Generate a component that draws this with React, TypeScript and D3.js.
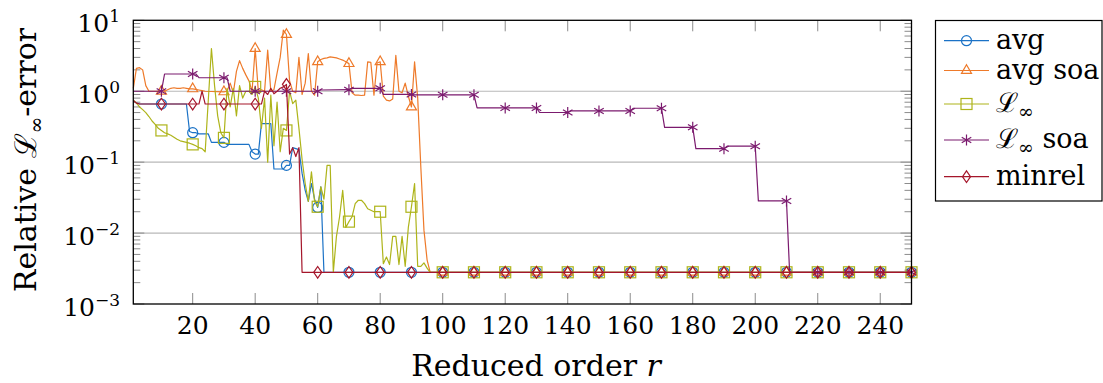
import * as d3 from 'd3';

// reduced order r on x, relative L-infinity error on y (log)
const FLOOR = 0.0028;

const avg: [number, number][] = [
  [1, 0.74], [2, 0.68], [3, 0.66], [10, 0.66], [18, 0.66], [19, 0.27], [20, 0.26], [21, 0.26],
  [22, 0.25], [25, 0.25], [26, 0.19], [30, 0.19], [31, 0.178], [38, 0.178], [39, 0.14], [40, 0.13],
  [41, 0.13], [42, 0.35], [45, 0.35], [46, 0.08], [49, 0.08], [50, 0.09], [51, 0.09], [52, 0.16],
  [54, 0.15], [55, 0.07], [56, 0.04], [57, 0.028], [58, 0.05], [59, 0.03], [60, 0.023], [61, 0.045],
  [62, FLOOR], [70, FLOOR], [80, FLOOR], [90, FLOOR], [100, FLOOR], [110, FLOOR], [120, FLOOR],
  [130, FLOOR], [140, FLOOR], [150, FLOOR], [160, FLOOR], [170, FLOOR], [180, FLOOR], [190, FLOOR],
  [200, FLOOR], [210, FLOOR], [220, FLOOR], [230, FLOOR], [240, FLOOR], [250, FLOOR],
];

const avgSoa: [number, number][] = [
  [1, 1.1], [2, 2.1], [3, 2.15], [4, 2.0], [5, 1.2], [6, 1.0], [10, 1.0], [11, 1.0], [12, 1.05],
  [13, 1.1], [14, 1.12], [15, 1.1], [16, 1.1], [17, 1.12], [18, 1.1], [19, 1.08], [20, 1.08],
  [21, 1.06], [22, 1.04], [23, 1.02], [24, 1.0], [30, 0.98], [31, 1.0], [32, 1.3], [33, 0.95],
  [34, 1.9], [35, 2.7], [36, 2.1], [37, 1.7], [38, 1.4], [39, 1.0], [40, 4.0], [41, 1.0], [42, 1.05],
  [43, 1.0], [44, 3.8], [45, 1.0], [46, 1.05], [47, 1.8], [48, 3.0], [49, 7.3], [50, 6.3], [51, 1.4],
  [52, 1.0], [53, 0.95], [54, 3.0], [55, 0.9], [56, 1.3], [57, 3.4], [58, 1.0], [59, 0.88], [60, 2.6],
  [61, 2.8], [62, 2.9], [63, 2.95], [64, 3.05], [65, 3.0], [66, 2.95], [67, 2.85], [68, 2.75],
  [69, 2.6], [70, 2.45], [71, 0.95], [72, 0.88], [73, 0.88], [74, 0.87], [75, 0.88], [76, 2.6],
  [77, 2.55], [78, 0.88], [79, 2.5], [80, 2.6], [81, 0.85], [82, 0.75], [83, 0.73], [84, 0.78],
  [85, 3.2], [86, 1.0], [87, 0.95], [88, 1.3], [89, 0.85], [90, 0.6], [91, 2.6], [92, 0.8],
  [93, 0.085], [94, 0.011], [95, 0.0042], [96, FLOOR], [100, FLOOR], [110, FLOOR], [120, FLOOR],
  [130, FLOOR], [140, FLOOR], [150, FLOOR], [160, FLOOR], [170, FLOOR], [180, FLOOR], [190, FLOOR],
  [200, FLOOR], [210, FLOOR], [220, FLOOR], [230, FLOOR], [240, FLOOR], [250, FLOOR],
];

const linf: [number, number][] = [
  [1, 0.75], [2, 0.68], [3, 0.6], [4, 0.55], [5, 0.5], [6, 0.44], [7, 0.38], [8, 0.34], [9, 0.3],
  [10, 0.28], [11, 0.26], [12, 0.25], [13, 0.24], [14, 0.225], [15, 0.21], [16, 0.2], [17, 0.195],
  [18, 0.19], [19, 0.185], [20, 0.178], [21, 0.17], [22, 0.16], [23, 0.155], [24, 0.14], [25, 0.75],
  [26, 4.0], [27, 1.2], [28, 0.45], [29, 0.26], [30, 0.22], [31, 1.1], [32, 0.6], [33, 1.1],
  [34, 0.45], [35, 1.2], [36, 0.8], [37, 1.0], [38, 1.0], [39, 0.9], [40, 1.15], [41, 0.8], [42, 0.3],
  [43, 0.8], [44, 0.1], [45, 0.88], [46, 0.17], [47, 0.7], [48, 0.14], [49, 0.3], [50, 0.28],
  [51, 1.0], [52, 0.67], [53, 0.75], [54, 0.3], [55, 0.11], [56, 0.05], [57, 0.028], [58, 0.073],
  [59, 0.028], [60, 0.0235], [61, 0.045], [62, 0.03], [63, 0.09], [64, 0.09], [65, FLOOR],
  [66, 0.009], [67, 0.017], [68, 0.04], [69, 0.012], [70, 0.0145], [71, 0.017], [72, 0.026],
  [73, 0.029], [74, 0.029], [75, 0.026], [76, 0.022], [77, 0.021], [78, 0.02], [79, 0.02], [80, 0.02],
  [81, 0.0037], [82, 0.0046], [83, 0.0036], [84, 0.009], [85, 0.009], [86, 0.0036], [87, 0.009],
  [88, 0.0034], [89, 0.012], [90, 0.0235], [91, 0.05], [92, 0.0034], [93, 0.0034], [94, 0.0038],
  [95, 0.0032], [96, FLOOR], [100, FLOOR], [110, FLOOR], [120, FLOOR], [130, FLOOR], [140, FLOOR],
  [150, FLOOR], [160, FLOOR], [170, FLOOR], [180, FLOOR], [190, FLOOR], [200, FLOOR], [210, FLOOR],
  [220, FLOOR], [230, FLOOR], [240, FLOOR], [250, FLOOR],
];

const linfSoa: [number, number][] = [
  [1, 1.0], [10, 1.0], [11, 1.75], [20, 1.75], [21, 1.75], [22, 1.55], [30, 1.55], [31, 1.55],
  [32, 1.0], [40, 1.0], [50, 1.0], [60, 1.0], [61, 1.04], [70, 1.05], [71, 1.1], [80, 1.1],
  [81, 0.9], [90, 0.9], [91, 0.89], [100, 0.89], [110, 0.89], [111, 0.582], [120, 0.582],
  [130, 0.582], [131, 0.501], [140, 0.501], [141, 0.528], [150, 0.528], [160, 0.528], [161, 0.575],
  [170, 0.575], [171, 0.31], [180, 0.31], [181, 0.155], [190, 0.155], [191, 0.168], [200, 0.168],
  [201, 0.0284], [210, 0.0284], [211, FLOOR], [220, FLOOR], [230, FLOOR], [240, FLOOR], [250, FLOOR],
];

const minrel: [number, number][] = [
  [1, 0.74], [2, 0.68], [3, 0.66], [10, 0.66], [20, 0.66], [22, 0.66], [23, 1.0], [24, 0.66],
  [30, 0.66], [40, 0.66], [42, 0.66], [43, 1.0], [44, 0.9], [45, 1.1], [46, 0.92], [47, 1.0],
  [48, 1.1], [49, 1.15], [50, 1.25], [51, 0.13], [52, 0.16], [53, 0.12], [54, 0.16], [55, FLOOR],
  [60, FLOOR], [70, FLOOR], [80, FLOOR], [90, FLOOR], [100, FLOOR], [110, FLOOR], [120, FLOOR],
  [130, FLOOR], [140, FLOOR], [150, FLOOR], [160, FLOOR], [170, FLOOR], [180, FLOOR], [190, FLOOR],
  [200, FLOOR], [210, FLOOR], [220, FLOOR], [230, FLOOR], [240, FLOOR], [250, FLOOR],
];

const xTicks = [20, 40, 60, 80, 100, 120, 140, 160, 180, 200, 220, 240];
const yTicks = [1e-3, 1e-2, 1e-1, 1e0, 1e1];
const yExponents = ['−3', '−2', '−1', '0', '1'];

type MarkType = 'circle' | 'triangle' | 'square' | 'star' | 'diamond';

const series: { label: string; sub?: boolean; suffix?: string; color: string; mark: MarkType; data: [number, number][] }[] = [
  { label: 'avg', color: '#1b72c6', mark: 'circle', data: avg },
  { label: 'avg soa', color: '#ee7a2a', mark: 'triangle', data: avgSoa },
  { label: 'ℒ', sub: true, color: '#aeb41a', mark: 'square', data: linf },
  { label: 'ℒ', sub: true, suffix: ' soa', color: '#7b1a6e', mark: 'star', data: linfSoa },
  { label: 'minrel', color: '#a5162b', mark: 'diamond', data: minrel },
];

const W = 1103;
const H = 383;
const left = 133.3;
const right = 911.5;
const top = 20.3;
const bottom = 304;
const FONT = 'DejaVu Serif';

function Mark({ type, x, y, color }: { type: MarkType; x: number; y: number; color: string }) {
  const p = { fill: 'none', stroke: color, strokeWidth: 1.2 };
  if (type === 'circle') return <circle cx={x} cy={y} r={5} {...p} />;
  if (type === 'square') return <rect x={x - 5.5} y={y - 5.5} width={11} height={11} {...p} />;
  if (type === 'triangle') {
    const r = 5.8;
    return (
      <path
        d={`M${x},${y - r}L${x + r * 0.866},${y + r * 0.5}L${x - r * 0.866},${y + r * 0.5}Z`}
        {...p}
      />
    );
  }
  if (type === 'diamond')
    return <path d={`M${x},${y - 5.8}L${x + 4},${y}L${x},${y + 5.8}L${x - 4},${y}Z`} {...p} />;
  const r = 5.5;
  const c = r * 0.866;
  const s = r * 0.5;
  return (
    <path
      d={`M${x},${y - r}L${x},${y + r}M${x - c},${y - s}L${x + c},${y + s}M${x - c},${y + s}L${x + c},${y - s}`}
      {...p}
    />
  );
}

export default function App() {
  const x = d3.scaleLinear().domain([1, 250]).range([left, right]);
  const y = d3.scaleLog().domain([1e-3, 10]).range([bottom, top]);
  const line = d3
    .line<[number, number]>()
    .x((d) => x(d[0]))
    .y((d) => y(d[1]));

  const minor: number[] = [];
  for (let e = -3; e < 1; e++) for (let k = 2; k <= 9; k++) minor.push(k * Math.pow(10, e));

  const lx = 935.5;
  const ly = 20.5;
  const rows = [40.7, 70.5, 104, 140, 176.7];
  const txt = { fontFamily: FONT };

  return (
    <svg width={W} height={H} style={{ position: 'absolute', left: 0, top: 0, background: '#fff', fontFamily: FONT }}>
      {/* grid */}
      {[1e-2, 1e-1, 1e0].map((t) => (
        <line key={t} x1={left} x2={right} y1={y(t)} y2={y(t)} stroke='#b8b8b8' strokeWidth={1.2} />
      ))}
      {/* minor y ticks */}
      {minor.map((t) => (
        <g key={t} stroke='#8c8c8c' strokeWidth={1}>
          <line x1={left} x2={left + 7} y1={y(t)} y2={y(t)} />
          <line x1={right} x2={right - 7} y1={y(t)} y2={y(t)} />
        </g>
      ))}
      {yTicks.map((t) => (
        <g key={t} stroke='#8c8c8c' strokeWidth={1}>
          <line x1={left} x2={left + 11} y1={y(t)} y2={y(t)} />
          <line x1={right} x2={right - 11} y1={y(t)} y2={y(t)} />
        </g>
      ))}
      {xTicks.map((t) => (
        <g key={t} stroke='#8c8c8c' strokeWidth={1}>
          <line x1={x(t)} x2={x(t)} y1={bottom} y2={bottom - 11} />
          <line x1={x(t)} x2={x(t)} y1={top} y2={top + 11} />
        </g>
      ))}

      {/* series */}
      {series.map((s) => (
        <g key={s.label + (s.suffix ?? '')}>
          <path d={line(s.data) ?? ''} fill='none' stroke={s.color} strokeWidth={1.2} strokeLinejoin='round' />
          {s.data
            .filter((d) => d[0] % 10 === 0)
            .map((d) => (
              <Mark key={d[0]} type={s.mark} x={x(d[0])} y={y(d[1])} color={s.color} />
            ))}
        </g>
      ))}

      {/* frame */}
      <rect x={left} y={top} width={right - left} height={bottom - top} fill='none' stroke='#000' strokeWidth={1.3} />

      {/* tick labels */}
      {xTicks.map((t) => (
        <text key={t} x={x(t)} y={334} fontSize={25} textAnchor='middle' style={txt}>
          {t}
        </text>
      ))}
      {yTicks.map((t, i) => (
        <text key={t} x={120} y={y(t) + 12} fontSize={25} textAnchor='end' style={txt}>
          10
          <tspan fontSize={17} dy={-10}>
            {yExponents[i]}
          </tspan>
        </text>
      ))}

      {/* axis labels */}
      <text x={536} y={376} fontSize={30} textAnchor='middle' style={txt}>
        Reduced order <tspan fontStyle='italic'>r</tspan>
      </text>
      <text transform='translate(36,160) rotate(-90)' fontSize={30} textAnchor='middle' style={txt}>
        Relative ℒ<tspan fontSize={20} dy={7}>∞</tspan>
        <tspan dy={-7}>-error</tspan>
      </text>

      {/* legend */}
      <rect x={lx} y={ly} width={1102 - lx} height={201 - ly} fill='#fff' stroke='#000' strokeWidth={1.2} />
      {series.map((s, i) => (
        <g key={'lg' + i}>
          <line x1={944} x2={989} y1={rows[i]} y2={rows[i]} stroke={s.color} strokeWidth={1.2} />
          <Mark type={s.mark} x={966.5} y={rows[i]} color={s.color} />
          <text x={996} y={rows[i] + 8} fontSize={27} style={txt}>
            {s.label}
            {s.sub && (
              <tspan fontSize={19} dy={6}>
                ∞
              </tspan>
            )}
            {s.suffix && <tspan dy={-6}>{s.suffix}</tspan>}
          </text>
        </g>
      ))}
    </svg>
  );
}
